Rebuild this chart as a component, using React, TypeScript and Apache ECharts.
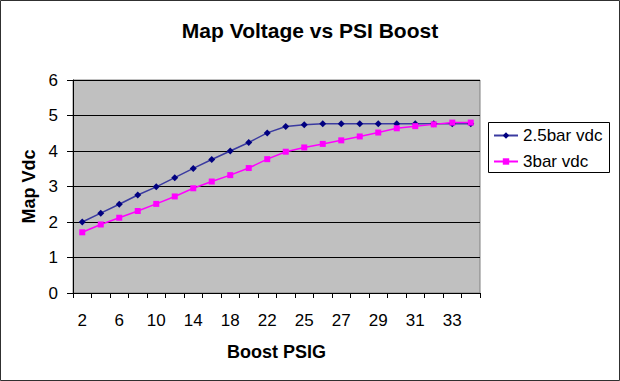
import React, { useEffect, useRef } from "react";
import * as echarts from "echarts";

const categories = ["2", "4", "6", "8", "10", "12", "14", "16", "18", "20", "22", "24", "25", "26", "27", "28", "29", "30", "31", "32", "33", "34"];
const bar25 = [2.0, 2.25, 2.5, 2.76, 2.99, 3.25, 3.51, 3.76, 4.0, 4.24, 4.51, 4.69, 4.74, 4.77, 4.77, 4.77, 4.77, 4.77, 4.77, 4.77, 4.77, 4.77];
const bar3 = [1.71, 1.93, 2.12, 2.31, 2.51, 2.72, 2.95, 3.14, 3.32, 3.52, 3.77, 3.98, 4.1, 4.2, 4.3, 4.41, 4.52, 4.64, 4.7, 4.75, 4.8, 4.8];
const yTicks = [0, 1, 2, 3, 4, 5, 6];

const FONT = "'Liberation Sans', Arial, sans-serif";

export default function App() {
  const ref = useRef<HTMLDivElement>(null);
  useEffect(() => {
    document.body.style.margin = "0";
    const chart = echarts.init(ref.current!, null, { renderer: "svg" });
    chart.setOption({
      animation: false,
      backgroundColor: "#ffffff",
      textStyle: { fontFamily: FONT },
      title: {
        text: "Map Voltage vs PSI Boost",
        left: "center",
        top: 20,
        padding: 0,
        textStyle: { fontFamily: FONT, fontSize: 21, fontWeight: "bold", color: "#000" },
      },
      grid: {
        left: 73,
        right: 140,
        top: 80,
        bottom: 88,
        show: true,
        backgroundColor: "#c0c0c0",
        borderColor: "#808080",
        borderWidth: 1,
      },
      legend: {
        orient: "vertical",
        left: 488,
        top: 122,
        backgroundColor: "transparent",
        borderWidth: 0,
        padding: [5, 6, 4, 5],
        itemGap: 9,
        itemWidth: 24,
        itemHeight: 8,
        textStyle: { fontFamily: FONT, fontSize: 17, color: "#000" },
        data: ["2.5bar vdc", "3bar vdc"],
      },
      xAxis: {
        type: "category",
        data: categories,
        boundaryGap: true,
        name: "Boost PSIG",
        nameLocation: "middle",
        nameGap: 50,
        nameTextStyle: { fontFamily: FONT, fontSize: 18, fontWeight: "bold", color: "#000" },
        axisLine: { lineStyle: { color: "#000", width: 1 } },
        axisTick: { show: true, interval: 0, length: 5, lineStyle: { color: "#000" } },
        axisLabel: { interval: 1, fontFamily: FONT, fontSize: 17, color: "#000", margin: 19 },
        splitLine: { show: false },
      },
      yAxis: {
        type: "value",
        min: 0,
        max: 6,
        interval: 1,
        name: "Map Vdc",
        nameLocation: "middle",
        nameGap: 35,
        nameRotate: 90,
        nameTextStyle: { fontFamily: FONT, fontSize: 18, fontWeight: "bold", color: "#000" },
        axisLine: { show: true, lineStyle: { color: "#000", width: 1 } },
        axisTick: { show: true, length: 6, lineStyle: { color: "#000" } },
        axisLabel: {
          fontFamily: FONT,
          fontSize: 17,
          color: "#000",
          margin: 15,
          formatter: (v: number) => (yTicks.includes(v) ? String(v) : ""),
        },
        splitLine: { show: true, lineStyle: { color: "#000", width: 1 } },
      },
      series: [
        {
          name: "2.5bar vdc",
          type: "line",
          data: bar25,
          symbol: "diamond",
          symbolSize: 7,
          itemStyle: { color: "#000080" },
          lineStyle: { color: "#3a3aa0", width: 1.5 },
        },
        {
          name: "3bar vdc",
          type: "line",
          data: bar3,
          symbol: "rect",
          symbolSize: 6,
          itemStyle: { color: "#ff00ff" },
          lineStyle: { color: "#ff00ff", width: 1.5 },
        },
      ],
      graphic: [
        {
          type: "rect",
          shape: { x: 488.5, y: 122.5, width: 121, height: 50 },
          style: { fill: "#ffffff", stroke: "#000000", lineWidth: 1 },
          silent: true,
          z: -1,
        },
        {
          type: "rect",
          shape: { x: 0.5, y: 0.5, width: 619, height: 380 },
          style: { fill: "none", stroke: "#303030", lineWidth: 1 },
          silent: true,
          z: 100,
        },
      ],
    });
    return () => chart.dispose();
  }, []);
  return <div ref={ref} style={{ width: 620, height: 381 }} />;
}
